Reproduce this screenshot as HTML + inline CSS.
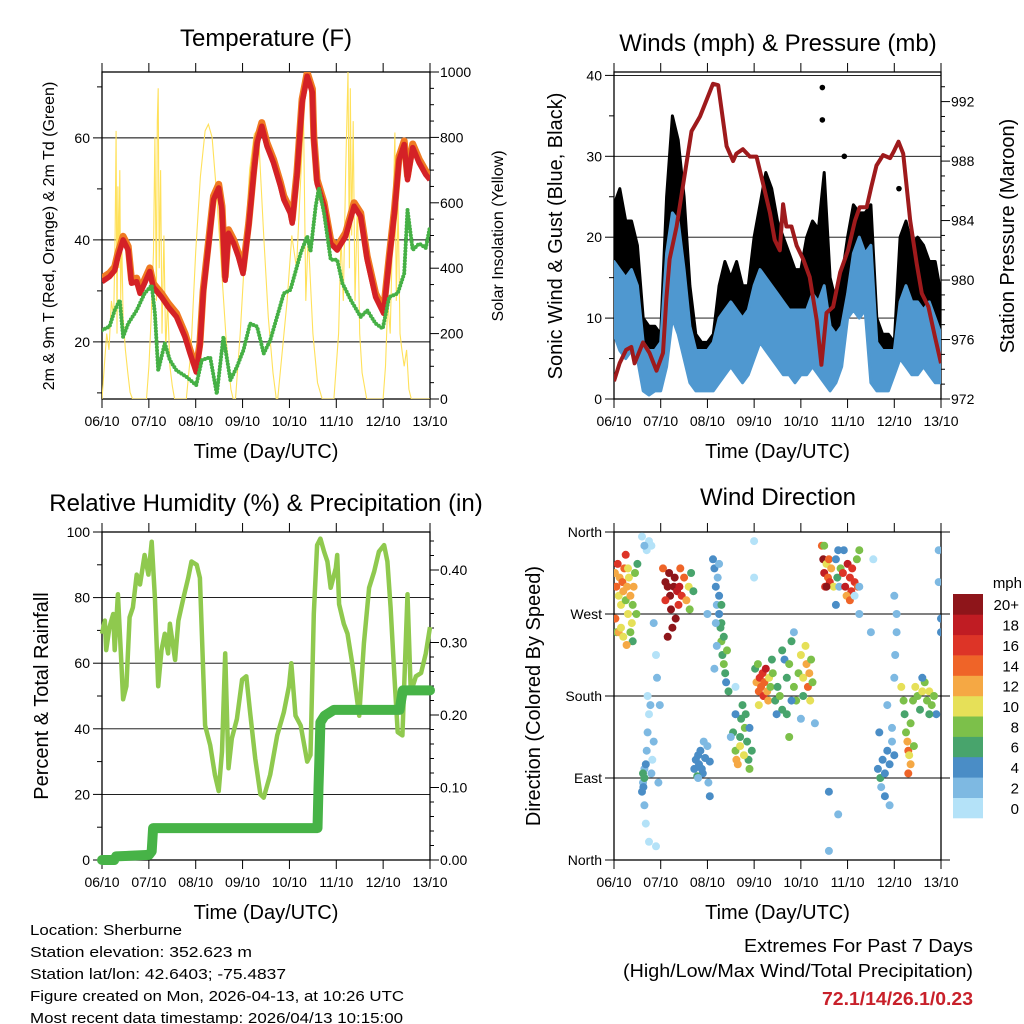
<!DOCTYPE html>
<html><head><meta charset="utf-8"><style>
html,body{margin:0;padding:0;background:#fff}
svg{display:block;font-family:"Liberation Sans",Arial,sans-serif}
</style></head><body>
<svg id="fig" width="1024" height="1024" viewBox="0 0 1024 1024" xmlns="http://www.w3.org/2000/svg">
<rect width="1024" height="1024" fill="#fff"/>
</svg>
<script>
// ---------- DATA ----------
const dayLabels = ["06/10","07/10","08/10","09/10","10/10","11/10","12/10","13/10"];
// Temperature (F)
const tempTimes = [0,.16,.27,.34,.45,.56,.63,.74,.81,.91,1.02,1.09,1.16,1.27,1.41,1.59,1.77,1.88,2.01,2.09,2.16,2.27,2.38,2.49,2.56,2.63,2.7,2.81,2.91,3.01,3.13,3.24,3.31,3.41,3.52,3.66,3.81,3.88,4.02,4.06,4.16,4.27,4.38,4.49,4.52,4.59,4.74,4.88,5.02,5.2,5.38,5.52,5.66,5.84,6.01,6.13,6.24,6.34,6.45,6.52,6.63,6.77,6.91,7.0];
const tempVals = [31.8,32.8,34,36.7,40,38,31.5,31.8,29.5,31.5,33.8,30.8,30,28.8,26.9,24.9,21,17.7,14.1,19,29.5,38.7,47.9,50.2,45.9,32.1,41.3,39.3,36.7,33.4,42.6,53.1,59,62.3,58.4,55.1,50.5,47.9,45.2,43.3,52.5,66.9,72.1,68.9,59.7,51.1,46.6,39.3,38,40.7,46.6,44.6,36.1,28.8,25.6,36.1,45.2,55.7,58.7,51.8,58.1,55.1,52.8,51.8];
const dewTimes = [0,.16,.27,.38,.45,.56,.74,.91,1.06,1.13,1.2,1.34,1.45,1.59,1.81,2.01,2.13,2.31,2.45,2.59,2.74,2.88,3.02,3.16,3.31,3.45,3.59,3.88,4.02,4.24,4.38,4.45,4.56,4.63,4.74,4.88,5.02,5.13,5.31,5.52,5.66,5.84,5.99,6.13,6.31,6.45,6.52,6.63,6.77,6.91,7.0];
const dewVals = [22.3,23,26.2,28.2,21,23.6,26.2,29.5,31.1,25.6,14.4,19.7,16.4,14.4,13.1,11.5,16.4,17,9.8,21,12.5,15.1,18.4,23.6,23,17.7,20.3,29.5,30.2,37.4,40.7,37.7,46.6,50.2,45.2,36.1,36.1,31.5,28.2,24.9,26.2,23.6,22.6,28.8,29.5,33.4,45.9,38,39.3,38.4,42.6];
const solarTimes = [0,0.05,0.1,0.15,0.2,0.25,0.28,0.3,0.32,0.34,0.36,0.38,0.4,0.42,0.45,0.5,0.55,0.6,0.65,
 0.95,1.0,1.05,1.1,1.13,1.16,1.18,1.2,1.22,1.25,1.28,1.32,1.36,1.4,1.45,1.5,1.55,
 1.8,1.9,2.0,2.1,2.2,2.27,2.35,2.45,2.55,2.65,2.75,2.8,
 2.85,2.95,3.05,3.15,3.25,3.3,3.35,3.45,3.55,3.65,3.72,
 3.75,3.85,3.95,4.05,4.15,4.25,4.3,4.35,4.4,4.5,4.6,4.7,
 4.95,5.05,5.1,5.15,5.2,5.25,5.28,5.3,5.33,5.36,5.4,5.45,5.5,5.55,5.65,
 6.0,6.05,6.1,6.15,6.2,6.25,6.28,6.32,6.36,6.4,6.45,6.5,6.55,6.6,7.0];
const solarVals = [0,100,200,150,300,250,500,820,200,650,400,700,300,500,250,150,80,20,0,
 0,100,250,450,800,300,850,950,400,700,200,500,150,300,100,40,0,
 0,150,450,680,820,840,800,620,400,180,30,0,
 0,200,450,700,810,820,780,500,250,80,0,
 0,150,300,500,400,700,870,300,500,200,50,0,
 0,200,500,300,700,1000,400,950,500,850,300,600,200,80,0,
 0,100,300,200,500,815,300,600,200,150,100,150,30,0,0];
// Winds (mph), 3-hourly
const windStep = 0.125;
const windLow  = [8,6,5,6,5,1,0.5,1,1,4,10,8,5,2,1,1,1,1,2,3,4,3,2,3,5,7,6,5,4,3,3,2,3,3,4,3,2,1,2,4,10,11,10,11,2,1,1,1,3,5,4,3,3,4,3,2,2];
const windHigh = [17,16,15,16,14,7,6,6,7,18,23,22,16,9,6,6,6,7,10,11,12,11,10,11,14,16,15,14,13,12,11,11,11,11,13,12,14,9,8,9,13,18,20,18,19,7,6,6,6,12,14,12,12,11,12,10,8];
const gustHigh = [24,26,22,22,19,10,9,9,8,25,35,32,25,14,8,7,7,8,14,17,15,17,14,14,20,24,28,26,22,20,18,16,16,20,22,21,28,15,12,15,20,24,23,23,24,10,8,8,7,20,22,19,20,19,17,17,13];
const gustOutlierT = [4.46,4.46,4.93,6.1];
const gustOutlierV = [38.5,34.5,30,26];
const pressTimes = [0,.12,.26,.37,.44,.62,.76,.91,1.05,1.12,1.19,1.34,1.51,1.66,1.84,1.98,2.12,2.23,2.41,2.55,2.62,2.76,2.91,3.05,3.19,3.34,3.44,3.55,3.62,3.69,3.8,3.91,4.05,4.19,4.34,4.44,4.55,4.69,4.84,5.01,5.16,5.26,5.41,5.51,5.62,5.76,5.91,5.98,6.09,6.19,6.34,6.48,6.59,6.73,6.87,7.0];
const pressVals = [973.2,974.4,975.3,975.5,974.4,975.8,975.1,973.9,975.1,978.7,981.4,983.6,987,990,991,992.1,993.2,993.1,989,988,988.5,988.8,988.3,988.3,986.5,984.5,982.7,982,985.1,983.6,983.6,982.3,981.4,980.2,977.3,974.3,977.8,978.2,980.5,982,984,984.9,984.9,986.3,987.7,988.4,988.2,988.6,989.3,988.5,984,981.1,979.1,978.2,976.2,974.4];
// RH (%) and precip (in)
const rhTimes = [0,.06,.09,.16,.24,.27,.34,.41,.45,.52,.59,.66,.74,.81,.91,.99,1.06,1.13,1.2,1.27,1.34,1.41,1.45,1.56,1.63,1.74,1.84,1.91,2.02,2.09,2.2,2.31,2.41,2.49,2.56,2.63,2.7,2.77,2.88,2.99,3.08,3.16,3.27,3.38,3.45,3.59,3.74,3.88,3.99,4.04,4.13,4.24,4.38,4.45,4.52,4.59,4.66,4.74,4.81,4.88,4.99,5.02,5.06,5.16,5.24,5.34,5.49,5.59,5.7,5.81,5.91,6.02,6.09,6.16,6.24,6.31,6.41,6.52,6.59,6.7,6.81,6.91,7.0];
const rhVals = [69,73,64,71,75,64,81,61,49,53,74,77,87,84,93,87,97,80,53,64,69,63,72,61,73,80,86,91,90,86,41,35,26,21,33,63,28,37,43,55,56,45,31,20,19,26,38,45,53,60,44,41,30,32,75,96,98,94,91,83,89,93,78,72,69,60,44,66,83,88,94,96,91,77,56,39,38,81,51,56,57,63,71];
const rainTimes = [0,0.26,0.3,1.0,1.06,1.09,4.6,4.62,4.64,4.66,4.75,4.95,6.35,6.42,7.0];
const rainVals = [0,0,0.005,0.007,0.012,0.044,0.044,0.1,0.14,0.19,0.199,0.207,0.207,0.234,0.234];
// Wind direction points: time (days), direction (deg), speed (mph)
const dirT = [0.02,0.05,0.08,0.1,0.12,0.15,0.18,0.2,0.22,0.25,0.28,0.3,0.32,0.35,0.38,0.4,0.42,0.45,0.48,0.5,0.03,0.06,0.1,0.15,0.2,0.25,0.3,0.35,0.4,0.27,
1.05,1.1,1.15,1.2,1.22,1.25,1.28,1.3,1.35,1.38,1.4,1.45,1.5,1.55,1.6,1.65,1.7,1.1,1.18,1.32,1.42,1.62,1.15,
0.62,0.65,0.7,0.72,0.75,0.78,0.8,0.82,0.85,0.6,0.65,0.68,0.75,0.9,0.95,0.98,0.92,0.9,0.85,0.75,0.8,0.7,0.62,0.65,0.68,0.63,
1.72,1.75,1.8,1.82,1.85,1.88,1.9,1.95,2.0,2.05,1.78,1.92,2.02,2.05,1.8,
2.12,2.15,2.18,2.2,2.25,2.28,2.3,2.32,2.35,2.38,2.4,2.25,2.2,2.15,2.3,2.35,2.42,2.45,2.18,2.22,2.25,2.3,
2.55,2.6,2.62,2.65,2.7,2.72,2.75,2.8,2.85,2.88,2.9,2.95,2.6,2.7,2.78,2.82,2.5,2.9,
3.02,3.05,3.1,3.12,3.15,3.18,3.2,3.22,3.25,3.28,3.3,3.32,3.35,3.4,3.45,3.5,3.55,3.6,3.08,3.38,3.1,3.48,
3.6,3.65,3.7,3.75,3.8,3.85,3.9,3.95,4.0,4.05,4.1,4.12,4.15,4.18,4.2,4.25,4.05,3.7,3.75,3.8,4.0,3.85,4.22,
4.45,4.48,4.5,4.52,4.55,4.58,4.6,4.62,4.65,4.7,4.75,4.78,4.8,4.82,4.85,4.9,4.95,5.0,5.05,5.08,5.1,5.15,5.2,5.25,5.22,4.98,5.05,4.75,4.5,4.92,4.55,
5.65,5.7,5.75,5.8,5.85,5.9,5.95,6.0,5.72,5.8,5.9,5.95,5.85,6.0,6.02,6.05,5.68,
6.15,6.2,6.22,6.25,6.28,6.3,6.32,6.35,6.4,6.45,6.5,6.55,6.6,6.65,6.7,6.75,6.8,6.85,6.9,6.35,6.42,6.6,6.75,6.3,
0.6,0.65,3.0,3.0,2.0,4.6,4.6,5.25,5.25,5.55,5.5,6.0,6.05,6.95,6.95,7.0,7.0,0.72,2.6,4.3,4.8,5.15];
const dirDeg = [315,300,325,290,310,280,305,295,320,285,300,270,310,290,260,280,300,315,270,325,265,250,250,255,245,335,320,250,240,236,
320,305,300,290,275,255,300,310,295,280,300,290,310,285,300,315,295,285,315,265,320,275,245,
85,100,120,140,160,170,95,110,130,75,60,40,20,15,85,170,200,225,260,350,345,340,95,90,105,80,
100,110,115,105,120,100,95,112,125,108,92,130,85,70,90,
330,320,300,280,270,255,240,225,215,205,195,290,235,210,260,245,230,185,260,310,325,280,
140,120,110,105,125,155,170,145,130,110,145,120,160,135,115,160,135,100,
210,195,185,200,190,205,180,195,210,185,175,200,190,205,175,190,180,165,215,220,170,160,
230,220,200,215,240,190,175,205,225,200,235,215,190,205,175,195,180,160,135,175,155,250,220,
345,330,315,300,325,310,330,305,320,300,330,310,340,300,320,315,300,325,310,295,320,305,330,340,300,290,285,280,345,340,300,
100,90,110,95,120,105,130,115,80,70,60,145,170,200,225,250,140,
190,175,160,140,130,120,115,150,175,190,180,165,185,195,175,185,170,180,160,105,125,200,160,95,
355,345,350,310,270,10,75,300,270,330,250,290,270,340,305,265,250,180,190,150,50,290];
const dirSpd = [12,14,16,10,13,11,15,12,14,9,13,10,11,12,10,8,12,8,9,7,15,9,12,10,11,16,10,9,7,13,
14,22,21,20,22,21,22,20,18,17,18,16,15,12,10,6,6,16,20,20,14,9,21,
3,3,2,2,1,2,2,1,2,4,2,1,1,0,3,3,3,1,3,1,1,0,7,6,4,5,
5,4,4,4,4,5,4,4,3,4,6,3,3,5,3,
4,4,4,3,4,6,8,7,9,6,5,5,3,2,7,6,8,6,3,3,2,7,
6,8,13,12,10,7,7,8,6,6,5,6,4,6,10,6,3,8,
7,12,14,16,15,17,16,14,18,12,13,10,9,8,7,6,8,7,8,7,10,4,
6,5,7,8,6,8,9,8,10,11,11,12,14,12,11,9,6,7,8,4,3,3,9,
15,20,18,16,10,14,15,17,12,10,4,6,4,3,8,17,18,18,17,16,16,17,8,9,14,12,15,4,9,5,20,
4,6,4,5,4,4,3,4,3,4,2,2,2,2,3,2,4,
10,8,7,8,12,14,10,8,9,10,8,6,10,9,8,10,9,8,5,13,8,4,6,15,
1,2,1,1,3,2,4,3,2,1,2,3,2,3,3,4,4,1,1,3,2,1];
const speedColors = ["#b4e2f8","#7eb9e2","#4a8dc6","#48a46c","#7cc04a","#e6e058","#f5a844","#ef6428","#dd3427","#c01c23","#8e151a"];
const speedLabels = ["0","2","4","6","8","10","12","14","16","18","20+"];

// ---------- HELPERS ----------
const NS="http://www.w3.org/2000/svg";
const svg=document.getElementById('fig');
function mk(tag, attrs, parent){const e=document.createElementNS(NS,tag);for(const k in attrs)e.setAttribute(k,attrs[k]);(parent||svg).appendChild(e);return e;}
function txt(s, attrs, parent){const e=mk('text',attrs,parent);e.textContent=s;return e;}
function pts(ts, vs, fx, fy){const n=Math.min(ts.length,vs.length);let a=[];for(let i=0;i<n;i++)a.push(fx(ts[i]).toFixed(1)+","+fy(vs[i]).toFixed(1));return a.join(" ");}

const P1={x0:102,x1:430,y0:72,y1:399}, P2={x0:614,x1:941,y0:72,y1:399};
const P3={x0:102,x1:430,y0:532,y1:860}, P4={x0:614,x1:941,y0:532,y1:860};
function xs(P){return t=>P.x0+t*(P.x1-P.x0)/7;}
const tempY=v=>399-(v-8.8)*5.1, solarY=v=>399-v*0.327;
const windY=v=>399-v*8.09, pressY=p=>399-(p-972)*14.87;
const rhY=v=>860-v*3.28, rainY=v=>860-v*725;
const dirY=d=>860-d*328/360;

function frame(P, name){
  const g=mk('g',{});
  
  
  mk('rect',{x:P.x0,y:P.y0,width:P.x1-P.x0,height:P.y1-P.y0,fill:'none',stroke:'#000','stroke-width':1.3},g);
  const fx=xs(P);
  for(let i=0;i<8;i++){const x=fx(i);
    mk('line',{x1:x,x2:x,y1:P.y0-9,y2:P.y0,stroke:'#000','stroke-width':1},g);
    mk('line',{x1:x,x2:x,y1:P.y1,y2:P.y1+9,stroke:'#000','stroke-width':1},g);
    const t=txt(dayLabels[i],{x:x,y:P.y1+27,'font-size':14,'text-anchor':'middle'},g);
    
    
  }
  const xt=txt('Time (Day/UTC)',{x:(P.x0+P.x1)/2,y:P.y1+59,'font-size':20,'text-anchor':'middle'},g);
  
  
  return g;
}
function leftTicks(P,g,vals,fy,labels,minor){
  minor.forEach(v=>{const y=fy(v);if(y>=P.y0-1&&y<=P.y1+1)mk('line',{x1:P.x0-5,x2:P.x0,y1:y,y2:y,stroke:'#000'},g);});
  vals.forEach((v,i)=>{const y=fy(v);
    mk('line',{x1:P.x0,x2:P.x1,y1:y,y2:y,stroke:'#000','stroke-width':0.9},g);
    mk('line',{x1:P.x0-9,x2:P.x0,y1:y,y2:y,stroke:'#000'},g);
    const t=txt(labels[i],{x:P.x0-12,y:y+5,'font-size':14,'text-anchor':'end'},g);
    
    
  });
}
function rightTicks(P,g,vals,fy,labels,minor){
  minor.forEach(v=>{const y=fy(v);if(y>=P.y0-1&&y<=P.y1+1)mk('line',{x1:P.x1,x2:P.x1+4,y1:y,y2:y,stroke:'#000'},g);});
  vals.forEach((v,i)=>{const y=fy(v);
    mk('line',{x1:P.x1,x2:P.x1+9,y1:y,y2:y,stroke:'#000'},g);
    const t=txt(labels[i],{x:P.x1+10,y:y+5,'font-size':14},g);
    
    
  });
}
function clip(P,id){const c=mk('clipPath',{id:id});mk('rect',{x:P.x0,y:P.y0,width:P.x1-P.x0,height:P.y1-P.y0},c);return 'url(#'+id+')';}
function vtitle(s,x,y,size,name){const t=txt(s,{x:x,y:y,'font-size':size,'text-anchor':'middle',transform:'rotate(-90 '+x+' '+y+')'});
  
  return t;}
function title(s,x,y,name){const t=txt(s,{x:x,y:y,'font-size':24,'text-anchor':'middle'});
  
  return t;}

// ---------- PANEL 1: Temperature ----------
(function(){
  const P=P1, fx=xs(P), cp=clip(P,'c1');
  const g=frame(P,'temperature');
  leftTicks(P,g,[20,40,60],tempY,["20","40","60"],[10,30,50,70]);
  rightTicks(P,g,[0,200,400,600,800,1000],solarY,["0","200","400","600","800","1000"],[50,100,150,250,300,350,450,500,550,650,700,750,850,900,950]);
  const s=mk('polyline',{points:pts(solarTimes,solarVals,fx,solarY),fill:'none',stroke:'#ffe15a','stroke-width':1.1,'clip-path':cp});
  
  
  const o=mk('polyline',{points:pts(tempTimes,tempVals.map(v=>v+0.7),fx,tempY),fill:'none',stroke:'#f07a22','stroke-width':7,'stroke-linejoin':'round','clip-path':cp});
  
  
  const r=mk('polyline',{points:pts(tempTimes,tempVals,fx,tempY),fill:'none',stroke:'#d42126','stroke-width':5.5,'stroke-linejoin':'round','clip-path':cp});
  
  
  const d=mk('polyline',{points:pts(dewTimes,dewVals,fx,tempY),fill:'none',stroke:'#45b045','stroke-width':4,'stroke-linecap':'round','stroke-dasharray':'0 3.2','clip-path':cp});
  
  
  title('Temperature (F)',266,46,'temperature-title');
  vtitle('2m & 9m T (Red, Orange) & 2m Td (Green)',54,236,16,'temperature-y-axis-title');
  vtitle('Solar Insolation (Yellow)',503,236,16,'solar-y-axis-title');
})();

// ---------- PANEL 2: Winds & Pressure ----------
(function(){
  const P=P2, fx=xs(P), cp=clip(P,'c2');
  const g=frame(P,'winds');
  leftTicks(P,g,[0,10,20,30,40],windY,["0","10","20","30","40"],[5,15,25,35]);
  rightTicks(P,g,[972,976,980,984,988,992],pressY,["972","976","980","984","988","992"],[973,974,975,977,978,979,981,982,983,985,986,987,989,990,991,993]);
  const windT=windHigh.map((_,i)=>i*windStep);
  let gp=pts(windT,gustHigh,fx,windY)+" "+pts(windT.slice().reverse(),windHigh.slice().reverse(),fx,windY);
  const gb=mk('polygon',{points:gp,fill:'#000',stroke:'#000','stroke-width':3,'stroke-linejoin':'round','clip-path':cp});
  
  
  gustOutlierT.forEach((t,i)=>{const c=mk('circle',{cx:fx(t),cy:windY(gustOutlierV[i]),r:2.8,fill:'#000'});
    
    });
  let wp=pts(windT,windHigh,fx,windY)+" "+pts(windT.slice().reverse(),windLow.slice().reverse(),fx,windY);
  const wb=mk('polygon',{points:wp,fill:'#4f98d0',stroke:'#4f98d0','stroke-width':3,'stroke-linejoin':'round','clip-path':cp});
  
  
  const p=mk('polyline',{points:pts(pressTimes,pressVals,fx,pressY),fill:'none',stroke:'#9e1a1c','stroke-width':4,'stroke-linejoin':'round','clip-path':cp});
  
  
  title('Winds (mph) & Pressure (mb)',778,51,'winds-title');
  vtitle('Sonic Wind & Gust (Blue, Black)',562,236,20,'wind-y-axis-title');
  vtitle('Station Pressure (Maroon)',1014,236,20,'pressure-y-axis-title');
})();

// ---------- PANEL 3: RH & Precip ----------
(function(){
  const P=P3, fx=xs(P), cp=clip(P,'c3');
  const g=frame(P,'humidity');
  leftTicks(P,g,[0,20,40,60,80,100],rhY,["0","20","40","60","80","100"],[10,30,50,70,90]);
  const minor=[];for(let v=0.02;v<0.45;v+=0.02)minor.push(v);
  rightTicks(P,g,[0,0.1,0.2,0.3,0.4],rainY,["0.00","0.10","0.20","0.30","0.40"],minor);
  const rh=mk('polyline',{points:pts(rhTimes,rhVals,fx,rhY),fill:'none',stroke:'#8fc94e','stroke-width':4.5,'stroke-linejoin':'round'});
  
  
  const rn=mk('polyline',{points:pts(rainTimes,rainVals,fx,rainY),fill:'none',stroke:'#47b347','stroke-width':10,'stroke-linejoin':'round','stroke-linecap':'round'});
  
  
  title('Relative Humidity (%) & Precipitation (in)',266,511,'humidity-title');
  vtitle('Percent & Total Rainfall',48,696,20,'humidity-y-axis-title');
})();

// ---------- PANEL 4: Wind direction ----------
(function(){
  const P=P4, fx=xs(P), cp=clip(P,'c4');
  const g=frame(P,'wind-direction');
  leftTicks(P,g,[0,90,180,270,360],dirY,["North","East","South","West","North"],[]);
  [0,90,180,270,360].forEach(v=>mk('line',{x1:P.x1,x2:P.x1+9,y1:dirY(v),y2:dirY(v),stroke:'#000'},g));
  const n=Math.min(dirT.length,dirDeg.length,dirSpd.length);
  for(let i=0;i<n;i++){
    const cls=Math.min(10,Math.floor(dirSpd[i]/2));
    const c=mk('circle',{cx:fx(dirT[i]).toFixed(1),cy:dirY(dirDeg[i]).toFixed(1),r:4,fill:speedColors[cls],'clip-path':cp});
    
    
  }
  title('Wind Direction',778,505,'wind-direction-title');
  vtitle('Direction (Colored By Speed)',540,696,20,'direction-y-axis-title');
  const cb=mk('g',{});
  
  
  const h=224/11;
  speedColors.forEach((col,i)=>{
    const y=818-(i+1)*h;
    const r=mk('rect',{x:953,y:y.toFixed(1),width:30,height:(h+0.3).toFixed(1),fill:col},cb);
    
    
    const t=txt(speedLabels[i],{x:1019,y:(y+h/2+6).toFixed(1),'font-size':15,'text-anchor':'end'},cb);
    
    
  });
  txt('mph',{x:1022,y:588,'font-size':15,'text-anchor':'end'},cb);
})();

// ---------- FOOTER ----------
(function(){
  const info=["Location: Sherburne","Station elevation: 352.623 m","Station lat/lon: 42.6403; -75.4837","Figure created on Mon, 2026-04-13, at 10:26 UTC","Most recent data timestamp: 2026/04/13 10:15:00"];
  const widths=[152,222,256,374,373];
  const g=mk('g',{});
  
  
  info.forEach((s,i)=>txt(s,{x:30,y:935+i*22,'font-size':15,textLength:widths[i],lengthAdjust:'spacingAndGlyphs'},g));
  const e=mk('g',{});
  
  
  txt('Extremes For Past 7 Days',{x:973,y:952,'font-size':18,'text-anchor':'end',textLength:229,lengthAdjust:'spacingAndGlyphs'},e);
  txt('(High/Low/Max Wind/Total Precipitation)',{x:973,y:977,'font-size':18,'text-anchor':'end',textLength:350,lengthAdjust:'spacingAndGlyphs'},e);
  txt('72.1/14/26.1/0.23',{x:973,y:1005,'font-size':18,'font-weight':'bold',fill:'#c8202a','text-anchor':'end',textLength:151,lengthAdjust:'spacingAndGlyphs'},e);
})();
</script>
</body></html>
